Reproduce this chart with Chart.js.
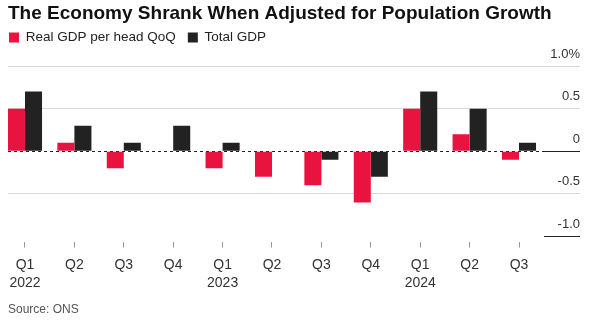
<!DOCTYPE html>
<html><head><meta charset="utf-8">
<script src="https://cdn.jsdelivr.net/npm/chart.js@4/dist/chart.umd.min.js"></script>
<style>html,body{margin:0;padding:0;background:#fff}#wrap{width:598px;height:329px;position:relative}</style>
</head><body><div id="wrap"><canvas id="c"></canvas></div>
<script>
const quarters = ['Q1','Q2','Q3','Q4','Q1','Q2','Q3','Q4','Q1','Q2','Q3'];
const years = ['2022','','','','2023','','','','2024','',''];
const realGdpPerHead = [0.5,0.1,-0.2,0,-0.2,-0.3,-0.4,-0.6,0.5,0.2,-0.1];
const totalGdp = [0.7,0.3,0.1,0.3,0.1,0,-0.1,-0.3,0.7,0.5,0.1];
const yTicks = [-1,-0.5,0,0.5,1];
const yTickLabels = ['-1.0','-0.5','0','0.5','1.0%'];

const FONT = "'Liberation Sans', Arial, sans-serif";
const labels = quarters.map((q,i)=>[q, years[i]]);

const legendShift = {
  id: 'legendShift',
  afterLayout(chart) {
    const lg = chart.legend;
    if (lg) { lg.left = -3; lg.top -= 10; }
  }
};

new Chart(document.getElementById('c'), {
  type: 'bar',
  data: {
    labels: labels,
    datasets: [
      {label:'Real GDP per head QoQ', data: realGdpPerHead, backgroundColor:'#e8133f'},
      {label:'Total GDP', data: totalGdp, backgroundColor:'#222222'}
    ]
  },
  plugins: [legendShift],
  options: {
    responsive: true, maintainAspectRatio: false, animation: false,
    layout: {padding: {left: 8, right: 18, top: 0, bottom: 0}},
    datasets: {bar: {categoryPercentage: 0.69, barPercentage: 1.0}},
    plugins: {
      title: {display: true, text: 'The Economy Shrank When Adjusted for Population Growth', align: 'start',
        color: '#111', font: {family: FONT, size: 19, weight: 'bold'}, padding: {top: 2, bottom: 4}},
      legend: {display: true, align: 'start',
        labels: {boxWidth: 10, boxHeight: 10, padding: 12, color: '#222', font: {family: FONT, size: 13.5}}},
      subtitle: {display: true, position: 'bottom', align: 'start', text: 'Source: ONS', color: '#555',
        font: {family: FONT, size: 12}, padding: {top: 2, bottom: 12}},
      tooltip: {enabled: false}
    },
    scales: {
      x: {
        grid: {offset: false, drawOnChartArea: false, drawTicks: true, tickLength: 6, color: '#999'},
        border: {display: false},
        ticks: {color: '#333', font: {family: FONT, size: 14, lineHeight: 1.32}, padding: 8, maxRotation: 0, autoSkip: false},
        afterBuildTicks: (s) => { s._startValue = -0.344; s._valueRange = 10.85; }
      },
      y: {
        position: 'right', min: -1.06, max: 1.02,
        afterBuildTicks: (s) => { s.ticks = yTicks.map(v => ({value: v})); },
        afterFit: (s) => { s.width = 36; },
        grid: {
          tickLength: 36,
          color: (c) => c.tick && c.tick.value === 0 ? '#222' : (c.tick && c.tick.value === -1 ? 'rgba(0,0,0,0)' : '#d9d9d9'),
          tickColor: (c) => c.tick && (c.tick.value === 0 || c.tick.value === -1) ? '#222' : '#d9d9d9'
        },
        border: {display: false, dash: (c) => c.tick && c.tick.value === 0 ? [3,3] : []},
        ticks: {
          crossAlign: 'far', padding: 0, labelOffset: -12, color: '#333', font: {family: FONT, size: 13},
          callback: (v) => { const i = yTicks.indexOf(v); return i >= 0 ? yTickLabels[i] : ''; }
        }
      }
    }
  }
});
</script></body></html>
